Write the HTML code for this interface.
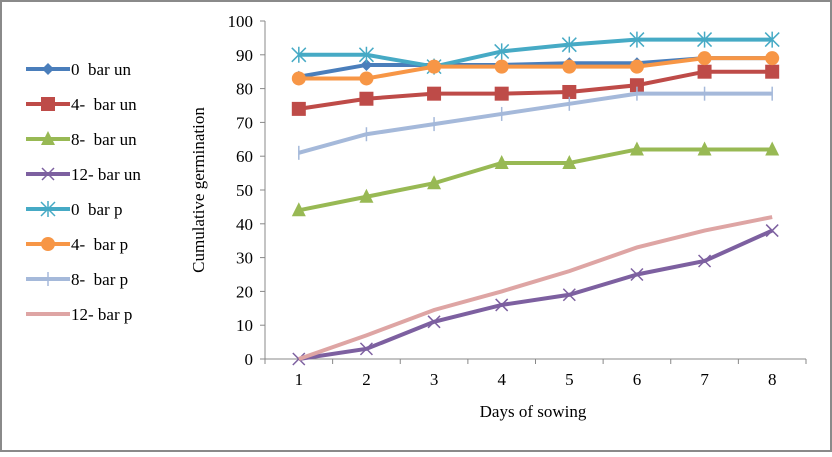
<!DOCTYPE html>
<html><head><meta charset="utf-8"><style>
body{margin:0;background:#fff}
svg,svg text{font-family:"Liberation Serif","DejaVu Serif",serif}
</style></head><body>
<svg width="832" height="452" viewBox="0 0 832 452" font-family="Liberation Serif, serif">
<rect x="1" y="1" width="830" height="450" fill="#fff" stroke="#8a8a8a" stroke-width="2"/>
<g id="axes"></g><g id="series"></g><g id="legend"></g>
<text x="204" y="190" font-size="17" text-anchor="middle" transform="rotate(-90 204 190)">Cumulative  germination</text>
<text x="533" y="417" font-size="17" text-anchor="middle">Days of sowing</text>
</svg>
<script>
const categories=[1,2,3,4,5,6,7,8];
const yTicks=[0,10,20,30,40,50,60,70,80,90,100];
const s0un=[83.5,87,87,87,87.5,87.5,89,89];
const s4un=[74,77,78.5,78.5,79,81,85,85];
const s8un=[44,48,52,58,58,62,62,62];
const s12un=[0,3,11,16,19,25,29,38];
const s0p=[90,90,86.5,91,93,94.5,94.5,94.5];
const s4p=[83,83,86.5,86.5,86.5,86.5,89,89];
const s8p=[61,66.5,69.5,72.5,75.5,78.5,78.5,78.5];
const s12p=[0,7,14.5,20,26,33,38,42];
const names=["0  bar un","4-  bar un","8-  bar un","12- bar un","0  bar p","4-  bar p","8-  bar p","12- bar p"];
const NS="http://www.w3.org/2000/svg";
const X0=265,X1=806,Y0=359,Y1=21;
const xs=i=>X0+(X1-X0)/categories.length*(i+0.5);
const ys=v=>Y0-(Y0-Y1)*v/100;
function mk(t,a,p){const e=document.createElementNS(NS,t);for(const k in a)e.setAttribute(k,a[k]);p.appendChild(e);return e;}
const ax=document.getElementById('axes');
let l=mk('line',{x1:X0,y1:Y1,x2:X0,y2:Y0,stroke:'#888'},ax);


l=mk('line',{x1:X0,y1:Y0,x2:X1,y2:Y0,stroke:'#888'},ax);


yTicks.forEach(v=>{mk('line',{x1:X0-5,x2:X0,y1:ys(v),y2:ys(v),stroke:'#888'},ax);
const t=mk('text',{x:X0-12,y:ys(v)+6,'font-size':17,'text-anchor':'end'},ax);t.textContent=v;

});
for(let i=0;i<=categories.length;i++){const x=X0+(X1-X0)/categories.length*i;mk('line',{x1:x,x2:x,y1:Y0,y2:Y0+5,stroke:'#888'},ax);}
categories.forEach((c,i)=>{const t=mk('text',{x:xs(i),y:Y0+26,'font-size':17,'text-anchor':'middle'},ax);t.textContent=c;

});
const data=[s0un,s4un,s8un,s12un,s0p,s4p,s8p,s12p];
const colors=['#4a7ebb','#be4b48','#98b954','#7d60a0','#46aac5','#f79646','#a5b9da','#dea5a4'];
const markers=['diamond','square','triangle','x','star','circle','plus','none'];
function marker(type,x,y,c,g){
 if(type==='diamond')mk('polygon',{points:`${x},${y-6} ${x+6},${y} ${x},${y+6} ${x-6},${y}`,fill:c},g);
 else if(type==='square')mk('rect',{x:x-7,y:y-7,width:14,height:14,fill:c},g);
 else if(type==='triangle')mk('polygon',{points:`${x},${y-8} ${x+7},${y+6} ${x-7},${y+6}`,fill:c},g);
 else if(type==='circle')mk('circle',{cx:x,cy:y,r:7,fill:c},g);
 else if(type==='x'){mk('path',{d:`M${x-6} ${y-6}L${x+6} ${y+6}M${x-6} ${y+6}L${x+6} ${y-6}`,stroke:c,'stroke-width':1.5},g);}
 else if(type==='star'){mk('path',{d:`M${x-7} ${y-7}L${x+7} ${y+7}M${x-7} ${y+7}L${x+7} ${y-7}M${x} ${y-8}L${x} ${y+8}`,stroke:c,'stroke-width':1.5},g);}
 else if(type==='plus'){mk('path',{d:`M${x} ${y-7}L${x} ${y+7}`,stroke:c,'stroke-width':1.5},g);}
}
const sg=document.getElementById('series');
data.forEach((arr,k)=>{
 const g=mk('g',{},sg);
 
 
 mk('polyline',{points:arr.map((v,i)=>xs(i)+','+ys(v)).join(' '),fill:'none',stroke:colors[k],'stroke-width':4},g);
 arr.forEach((v,i)=>marker(markers[k],xs(i),ys(v),colors[k],g));
});
const lg=document.getElementById('legend');
names.forEach((n,k)=>{
 const y=69+k*35;
 const g=mk('g',{},lg);
 
 
 mk('line',{x1:26,x2:70,y1:y,y2:y,stroke:colors[k],'stroke-width':4},g);
 marker(markers[k],48,y,colors[k],g);
 const t=mk('text',{x:71,y:y+6,'font-size':17},g);t.textContent=n;t.style.whiteSpace='pre';
});
</script>
</body></html>
